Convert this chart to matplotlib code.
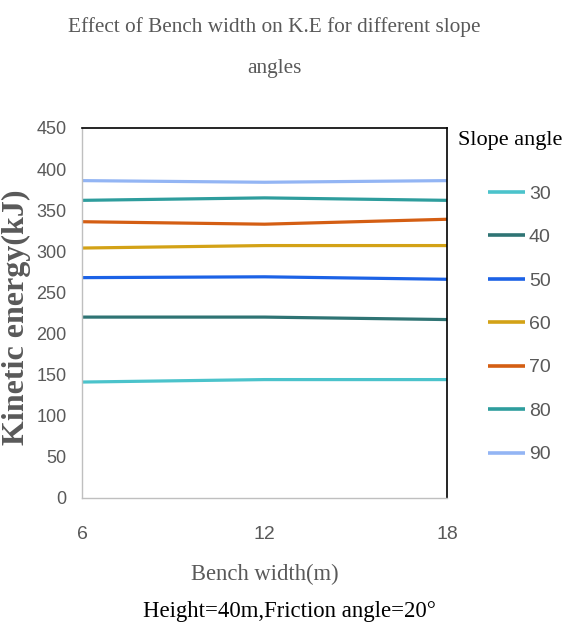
import matplotlib
matplotlib.use("Agg")
import matplotlib.pyplot as plt

bench_width = [6, 12, 18]
slope_angles = ["30", "40", "50", "60", "70", "80", "90"]
ke_30 = [141, 144, 144]
ke_40 = [220, 220, 217]
ke_50 = [268, 269, 266]
ke_60 = [304, 307, 307]
ke_70 = [336, 333, 339]
ke_80 = [362, 365, 362]
ke_90 = [386, 384, 386]
series = [ke_30, ke_40, ke_50, ke_60, ke_70, ke_80, ke_90]
colors = ["#4BC3CB", "#2F7474", "#1C62E6", "#D3A216", "#D45E13", "#2E9D9D", "#93B5F4"]

SERIF = ["Liberation Serif", "DejaVu Serif"]
NARROW = ["Liberation Sans Narrow", "Liberation Sans", "DejaVu Sans"]
GRAY = "#595959"
H = 633.0
W = 566.0

fig = plt.figure(figsize=(5.66, 6.33), dpi=100)
ax = fig.add_axes([0.1449, 0.2133, 0.645, 0.5845])

for vals, c, lab in zip(series, colors, slope_angles):
    ax.plot(bench_width, vals, color=c, lw=2.3, label=lab, solid_capstyle="butt")

ax.set_xlim(6, 18)
ax.set_ylim(0, 450)
ax.set_xticks(bench_width)
ax.set_yticks(range(0, 451, 50))
ax.tick_params(length=0, labelcolor=GRAY)
ax.tick_params(axis="y", pad=11)
ax.tick_params(axis="x", pad=20)
for lbl in ax.get_xticklabels() + ax.get_yticklabels():
    lbl.set_fontfamily(NARROW)
    lbl.set_fontsize(14)
for lbl in ax.get_yticklabels():
    lbl.set_fontsize(13)

for s in ["top", "right"]:
    ax.spines[s].set_color("black")
    ax.spines[s].set_linewidth(1.2)
for s in ["left", "bottom"]:
    ax.spines[s].set_color("#BFBFBF")
    ax.spines[s].set_linewidth(1.0)

ax.set_xlabel("Bench width(m)", family=SERIF, fontsize=16.3, color=GRAY, labelpad=15)
ax.set_ylabel("Kinetic energy(kJ)", family=SERIF, fontsize=23, color=GRAY,
              fontweight="bold")
ax.yaxis.set_label_coords(-0.14, 0.489)

fig.text(274 / W, 1 - 27 / H, "Effect of Bench width on K.E for different slope",
         ha="center", va="center", family=SERIF, fontsize=15.3, color=GRAY)
fig.text(274 / W, 1 - 68 / H, "angles",
         ha="center", va="center", family=SERIF, fontsize=15.3, color=GRAY)
fig.text(289 / W, 1 - 612 / H, "Height=40m,Friction angle=20°", ha="center", va="center",
         family=SERIF, fontsize=16.4, color="black")
fig.text(458 / W, 1 - 141 / H, "Slope angle", ha="left", va="center",
         family=SERIF, fontsize=16, color="black")

leg = ax.legend(loc="upper left", bbox_to_anchor=(488 / W, 1 - 185 / H),
                bbox_transform=fig.transFigure, frameon=False,
                handlelength=1.9, handletextpad=0.2, borderpad=0,
                labelspacing=1.33, borderaxespad=0,
                prop={"family": NARROW, "size": 14})
for t in leg.get_texts():
    t.set_color(GRAY)
for h in leg.legend_handles:
    h.set_linewidth(2.6)

fig.savefig("out.png", dpi=100)
